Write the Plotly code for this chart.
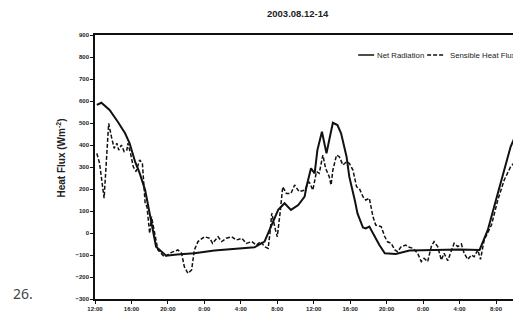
import plotly.graph_objects as go

# Hours since 12:00 on 2003-08-12
net_t = [0.2, 0.7, 1.6, 2.5, 3.3, 3.8, 4.4, 4.9, 5.5, 6.0, 6.4, 6.7, 7.5, 7.8, 9.0, 10.9,
         13.1, 15.7, 17.5, 18.6, 19.3, 20.1, 20.8, 21.5, 22.3, 23.0, 23.2, 23.7, 24.1, 24.4,
         24.9, 25.4, 25.7, 26.1, 26.6, 27.0, 27.6, 27.9, 28.5, 28.8, 29.4, 29.7, 30.1, 30.7,
         31.2, 31.8, 33.0, 34.5, 37.0, 40.0, 42.2, 43.1, 43.8, 44.7, 45.6, 46.0]
net_v = [582, 592, 559, 506, 453, 408, 324, 272, 195, 90, 14, -62, -92, -103, -98, -92,
         -80, -70, -65, -39, 29, 105, 135, 105, 127, 165, 210, 294, 271, 377,
         460, 362, 423, 501, 491, 453, 347, 256, 150, 89, 25, 21, 29, -17,
         -55, -92, -95, -80, -77, -75, -77, 14, 120, 256, 392, 430]

sh_t = [0.2, 0.5, 1.0, 1.3, 1.5, 1.8, 2.1, 2.4, 2.6, 2.9, 3.2, 3.5, 3.6, 3.9, 4.2, 4.5,
        4.9, 5.2, 5.5, 5.7, 6.0, 6.2, 6.6, 6.9, 7.6, 8.4, 9.1, 9.5, 9.8, 10.2, 10.6, 10.9,
        11.3, 12.0, 12.6, 12.9, 13.5, 13.9, 14.4, 15.0, 15.5, 16.1, 16.6, 17.2, 17.7, 18.2,
        18.6, 19.0, 19.2, 19.4, 19.8, 20.0, 20.3, 20.6, 21.0, 21.5, 21.9, 22.4, 23.0, 23.5,
        23.9, 24.3, 24.6, 25.0, 25.3, 25.7, 25.9, 26.1, 26.5, 26.8, 27.2, 27.6, 27.9, 28.3,
        28.7, 29.0, 29.4, 29.7, 30.1, 30.5, 30.8, 31.4, 31.8, 32.1, 32.5, 32.9, 33.2, 33.6,
        34.1, 34.3, 34.9, 35.4, 35.8, 36.1, 36.5, 36.9, 37.2, 37.6, 38.0, 38.3, 38.7, 39.1,
        39.4, 39.8, 40.2, 40.5, 40.9, 41.3, 41.6, 42.0, 42.3, 42.7, 43.5, 44.2, 44.9, 45.6, 46.0]
sh_v = [362, 317, 158, 347, 498, 438, 385, 408, 377, 400, 370, 377, 408, 362, 301, 279,
        332, 317, 135, 120, -2, 74, -17, -77, -108, -88, -77, -92, -153, -183, -168, -77,
        -39, -17, -24, -47, -17, -39, -24, -17, -32, -24, -47, -39, -55, -39,
        -62, -70, 0, 90, 14, -17, 89, 210, 180, 180, 218, 188, 195, 233,
        195, 279, 271, 354, 294, 256, 218, 286, 354, 347, 309, 324, 317, 286,
        210, 203, 165, 150, 158, 74, 36, 29, -17, -40, -47, -77, -85, -62,
        -55, -62, -70, -92, -130, -115, -130, -62, -39, -62, -123, -92, -126, -77,
        -47, -62, -50, -92, -120, -100, -108, -77, -120, -32, 36, 150, 241, 301, 320]

tick_vals = [0, 4, 8, 12, 16, 20, 24, 28, 32, 36, 40, 44]
tick_text = ["12:00", "16:00", "20:00", "0:00", "4:00", "8:00",
             "12:00", "16:00", "20:00", "0:00", "4:00", "8:00"]
y_ticks = [-300, -200, -100, 0, 100, 200, 300, 400, 500, 600, 700, 800, 900]

W, H = 513, 322
L, R, T, B = 94.5, 0, 35, 23
pw = W - L - R
ph = H - T - B
px_per_hour = 9.125
x_max = pw / px_per_hour

def px(x):
    return (x - L) / pw

def py(y):
    return 1 - (y - T) / ph

fig = go.Figure()
fig.add_trace(go.Scatter(x=sh_t, y=sh_v, mode="lines", name="Sensible Heat Flux",
                         line=dict(color="#111", width=1.5, dash="4px,2px")))
fig.add_trace(go.Scatter(x=net_t, y=net_v, mode="lines", name="Net Radiation",
                         line=dict(color="#111", width=2)))

tickfont = dict(family="Liberation Sans Narrow, Arial Narrow, sans-serif", size=6,
                color="#222", weight="bold")
fig.update_xaxes(range=[0, x_max], tickvals=tick_vals, ticktext=tick_text,
                 showline=True, linecolor="#111", linewidth=1.5, mirror=True,
                 ticks="outside", ticklen=3, tickcolor="#111", showgrid=False,
                 zeroline=False, tickfont=tickfont)
fig.update_yaxes(range=[-300, 900], tickvals=y_ticks, showline=True, linecolor="#111",
                 linewidth=1.5, ticks="outside", ticklen=3, tickcolor="#111",
                 showgrid=False, zeroline=False, tickfont=tickfont)

def note(text, x, y, size, family, color="#222", xanchor="center", angle=0):
    return dict(text=text, x=px(x), y=py(y), xref="paper", yref="paper",
                xanchor=xanchor, yanchor="middle", showarrow=False, textangle=angle,
                font=dict(family=family, size=size, color=color))

narrow = "Liberation Sans Narrow, Arial Narrow, sans-serif"
ann = [
    note("<b>2003.08.12-14</b>", 298, 13, 9.5, narrow),
    note("<b>Heat Flux (Wm<sup>-2</sup>)</b>", 60, 158, 10, "Liberation Sans Narrow, sans-serif", angle=-90),
    note("26.", 22, 293, 14, "Noto Sans, sans-serif", color="#444"),
    note("Net Radiation", 375, 55, 7.8, narrow, xanchor="left"),
    note("Sensible Heat Flux", 448, 55, 7.8, narrow, xanchor="left"),
]

shapes = [
    dict(type="line", xref="paper", yref="paper", x0=px(358), x1=px(374), y0=py(55), y1=py(55),
         line=dict(color="#111", width=1.5)),
    dict(type="line", xref="paper", yref="paper", x0=px(427), x1=px(445), y0=py(55), y1=py(55),
         line=dict(color="#111", width=1.5, dash="4px,2px")),
]

fig.update_layout(width=W, height=H, margin=dict(l=L, r=R, t=T, b=B, pad=0),
                  paper_bgcolor="white", plot_bgcolor="white", showlegend=False,
                  annotations=ann, shapes=shapes)

fig.write_html("out.html", config={"displayModeBar": False})
